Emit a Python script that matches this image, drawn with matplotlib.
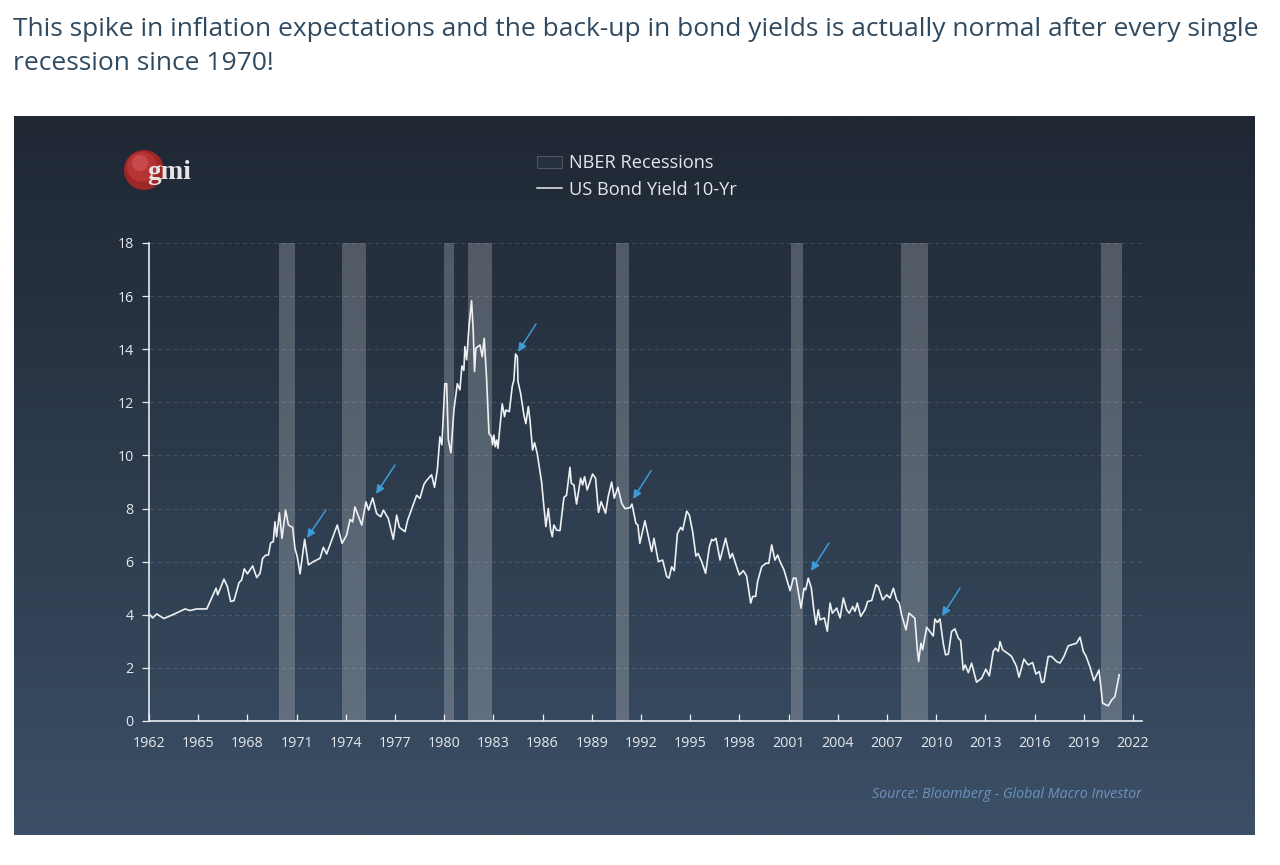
import numpy as np
import matplotlib
matplotlib.use("Agg")
import matplotlib.pyplot as plt
from matplotlib.patches import Patch, Circle
from matplotlib.lines import Line2D

TITLE = "This spike in inflation expectations and the back-up in bond yields is actually normal after every single\nrecession since 1970!"
SOURCE = "Source: Bloomberg - Global Macro Investor"
LOGO = "gmi"
LEGEND_LABELS = ["NBER Recessions", "US Bond Yield 10-Yr"]

x_tick_years = list(range(1962, 2023, 3))
y_ticks = list(range(0, 19, 2))

years = [1962.0,1962.22,1962.47,1962.91,1963.48,1964.2,1964.5,1964.91,1965.52,1966.09,1966.19,1966.57,1966.78,1966.98,1967.18,1967.49,1967.65,1967.81,1968.0,1968.32,1968.57,1968.77,1968.93,1969.13,1969.28,1969.42,1969.58,1969.68,1969.78,1969.95,1970.11,1970.33,1970.5,1970.76,1970.9,1971.04,1971.21,1971.49,1971.72,1972.02,1972.43,1972.63,1972.83,1973.48,1973.77,1974.05,1974.26,1974.42,1974.56,1974.97,1975.23,1975.39,1975.64,1975.88,1976.13,1976.29,1976.59,1976.9,1977.1,1977.27,1977.61,1977.77,1978.32,1978.52,1978.77,1978.93,1979.13,1979.23,1979.41,1979.58,1979.74,1979.86,1980.04,1980.15,1980.25,1980.41,1980.59,1980.8,1980.96,1981.08,1981.2,1981.26,1981.37,1981.51,1981.67,1981.77,1981.85,1981.93,1982.18,1982.32,1982.44,1982.58,1982.73,1982.89,1982.95,1983.03,1983.11,1983.2,1983.28,1983.36,1983.54,1983.68,1983.76,1983.97,1984.15,1984.25,1984.35,1984.46,1984.5,1984.66,1984.86,1984.98,1985.13,1985.23,1985.39,1985.51,1985.67,1985.94,1986.08,1986.2,1986.35,1986.49,1986.59,1986.69,1986.85,1987.06,1987.3,1987.46,1987.67,1987.75,1987.91,1988.07,1988.32,1988.44,1988.56,1988.72,1989.05,1989.23,1989.41,1989.57,1989.84,1990.0,1990.21,1990.37,1990.59,1990.82,1991.02,1991.33,1991.45,1991.69,1991.81,1991.93,1992.24,1992.65,1992.79,1993.06,1993.32,1993.57,1993.71,1993.87,1994.03,1994.22,1994.42,1994.54,1994.79,1994.95,1995.15,1995.35,1995.48,1995.7,1995.94,1996.17,1996.31,1996.41,1996.57,1996.82,1997.16,1997.43,1997.57,1997.79,1998.0,1998.24,1998.44,1998.69,1998.81,1998.99,1999.11,1999.36,1999.62,1999.79,1999.97,2000.17,2000.33,2000.48,2000.72,2001.09,2001.29,2001.45,2001.76,2001.94,2002.04,2002.2,2002.39,2002.55,2002.67,2002.81,2002.92,2003.18,2003.36,2003.53,2003.67,2003.93,2004.14,2004.34,2004.54,2004.7,2004.91,2005.05,2005.19,2005.4,2005.66,2005.82,2006.07,2006.33,2006.47,2006.74,2006.98,2007.18,2007.39,2007.59,2007.75,2007.89,2008.16,2008.34,2008.7,2008.85,2008.93,2009.07,2009.17,2009.42,2009.62,2009.82,2009.92,2010.07,2010.23,2010.43,2010.57,2010.74,2010.94,2011.14,2011.35,2011.49,2011.65,2011.77,2011.96,2012.16,2012.46,2012.77,2013.03,2013.24,2013.48,2013.62,2013.79,2013.89,2014.05,2014.4,2014.6,2014.9,2015.05,2015.35,2015.61,2015.88,2016.08,2016.29,2016.43,2016.57,2016.83,2017.04,2017.34,2017.55,2017.79,2018.05,2018.26,2018.56,2018.77,2018.97,2019.13,2019.37,2019.62,2019.93,2020.15,2020.49,2020.7,2020.9,2021.16]
yields = [4.04,3.88,4.03,3.86,4.01,4.22,4.16,4.22,4.22,5.0,4.75,5.34,5.06,4.5,4.53,5.21,5.31,5.73,5.54,5.84,5.4,5.56,6.13,6.25,6.25,6.71,6.75,7.5,6.94,7.84,6.88,7.94,7.38,7.29,6.5,6.19,5.54,6.84,5.88,6.0,6.13,6.54,6.29,7.38,6.69,7.0,7.59,7.5,8.06,7.38,8.25,7.94,8.4,7.81,7.69,7.94,7.63,6.84,7.75,7.29,7.13,7.56,8.5,8.38,8.92,9.06,9.2,9.27,8.8,9.45,10.7,10.4,12.7,12.7,10.6,10.1,11.7,12.7,12.47,13.37,13.2,14.1,13.6,14.85,15.83,14.7,13.16,14.04,14.16,13.72,14.41,12.97,10.83,10.7,10.4,10.77,10.33,10.58,10.27,10.83,11.94,11.46,11.71,11.65,12.6,12.84,13.82,13.72,12.78,12.34,11.52,11.2,11.84,11.33,10.2,10.48,10.08,9.0,8.07,7.32,8.0,7.2,6.94,7.38,7.19,7.17,8.42,8.5,9.55,8.95,8.89,8.17,9.14,8.89,9.2,8.7,9.3,9.14,7.85,8.26,7.82,8.45,9.0,8.39,8.8,8.2,8.0,8.03,8.17,7.44,7.38,6.69,7.54,6.38,6.88,6.0,6.06,5.44,5.38,5.81,5.66,7.06,7.29,7.19,7.9,7.75,7.13,6.21,6.31,6.0,5.56,6.56,6.84,6.79,6.88,6.06,6.88,6.13,6.31,5.88,5.5,5.66,5.46,4.44,4.69,4.69,5.25,5.81,5.94,5.94,6.63,6.06,6.25,6.0,5.69,4.91,5.38,5.38,4.25,5.0,4.94,5.38,5.0,4.13,3.63,4.19,3.81,3.88,3.38,4.44,4.06,4.25,3.88,4.63,4.19,4.06,4.31,4.13,4.44,3.94,4.19,4.5,4.54,5.13,5.06,4.56,4.75,4.63,5.0,4.56,4.44,4.0,3.43,4.06,3.87,2.68,2.24,2.93,2.68,3.53,3.37,3.2,3.84,3.71,3.84,2.93,2.49,2.52,3.37,3.47,3.12,3.03,1.92,2.11,1.82,2.18,1.46,1.61,1.95,1.7,2.62,2.74,2.62,2.99,2.68,2.53,2.43,2.05,1.65,2.33,2.11,2.2,1.77,1.86,1.45,1.48,2.43,2.43,2.24,2.18,2.43,2.83,2.87,2.93,3.16,2.62,2.45,2.05,1.52,1.92,0.67,0.57,0.79,0.92,1.74]

recession_starts = [1969.93,1973.77,1979.99,1981.45,1990.48,2001.15,2007.85,2020.05]
recession_ends = [1970.90,1975.23,1980.60,1982.92,1991.27,2001.88,2009.50,2021.33]

arrow_head_year = [1971.63,1975.84,1984.50,1991.51,2002.37,2010.35]
arrow_head_val = [6.89,8.55,13.90,8.36,5.65,3.95]
arrow_tail_year = [1972.79,1977.00,1985.60,1992.61,2003.46,2011.45]
arrow_tail_val = [7.95,9.64,14.95,9.42,6.70,5.00]

W, H = 1280, 865
FONT = "Open Sans"
plt.rcParams["font.family"] = [FONT, "DejaVu Sans"]
fig = plt.figure(figsize=(W / 100, H / 100), dpi=100, facecolor="white")

def rect(l, t, r, b):
    return [l / W, 1 - b / H, (r - l) / W, (b - t) / H]

# panel with vertical gradient
bg = fig.add_axes(rect(14, 116, 1255, 835))
top_c = np.array([0x1f, 0x27, 0x33]) / 255
bot_c = np.array([0x3b, 0x4f, 0x66]) / 255
t = np.linspace(0, 1, 256)[:, None, None]
bg.imshow(top_c[None, None, :] * (1 - t) + bot_c[None, None, :] * t, aspect="auto", extent=(0, 1, 0, 1))
bg.axis("off")

fig.text(13 / W, 1 - 17 / H, TITLE, color="#2f4a60", fontsize=19.0, va="top", ha="left", linespacing=1.5)

ax = fig.add_axes(rect(149, 243, 1142, 721))
ax.patch.set_alpha(0)
ax.set_xlim(1962, 2022.55)
ax.set_ylim(0, 18)
ax.set_xticks(x_tick_years)
ax.set_yticks(y_ticks)
ax.yaxis.grid(True, color="white", alpha=0.12, lw=0.8, ls=(0, (4, 3)))
ax.set_axisbelow(True)
for s in ("top", "right"):
    ax.spines[s].set_visible(False)
for s in ("left", "bottom"):
    ax.spines[s].set_color("#e8ecf0")
    ax.spines[s].set_linewidth(1.2)
ax.tick_params(axis="x", direction="in", length=5, width=0.9, color="#e8ecf0", labelcolor="#e4e8ec", labelsize=10.3, pad=11)
ax.tick_params(axis="y", direction="out", length=5, width=0.9, color="#e8ecf0", labelcolor="#e4e8ec", labelsize=10.3, pad=6)

for a, b in zip(recession_starts, recession_ends):
    ax.axvspan(a, b, color="white", alpha=0.21, lw=0, zorder=1)
ax.plot(years, yields, color="#eef0f2", lw=1.2, zorder=3, solid_joinstyle="round")

for hx, hy, tx, ty in zip(arrow_head_year, arrow_head_val, arrow_tail_year, arrow_tail_val):
    ax.annotate("", xy=(hx, hy), xytext=(tx, ty), zorder=4,
                arrowprops=dict(arrowstyle="-|>,head_length=0.5,head_width=0.24", color="#3f9bd6", lw=1.1,
                                shrinkA=0, shrinkB=0))

# legend
handles = [Patch(facecolor="#ffffff08", edgecolor="#4d5763", lw=0.8), Line2D([], [], color="#e8ecf0", lw=1.1)]
fig.legend(handles, LEGEND_LABELS, loc="upper left", bbox_to_anchor=(531.5 / W, 1 - 149 / H), frameon=False,
           fontsize=13.15, labelcolor="#e4e8ec", handlelength=1.38, handletextpad=0.36, labelspacing=0.45,
           borderpad=0.3, borderaxespad=0)

# logo
la = fig.add_axes(rect(14, 116, 1255, 835))
la.set_xlim(14, 1255)
la.set_ylim(835, 116)
la.axis("off")
la.patch.set_alpha(0)
la.add_patch(Circle((144, 170), 20, color="#9e2626", lw=0))
la.add_patch(Circle((142, 167), 15, color="#b83434", lw=0))
la.add_patch(Circle((140, 163), 8, color="#c94a4a", lw=0))
la.text(169.5, 172, LOGO, family="Liberation Serif", weight="bold", color="#e8e4e4", fontsize=19.5, ha="center", va="center")

fig.text(1142 / W, 1 - 794.5 / H, SOURCE, color="#6b93bd", fontsize=10.3, style="italic", ha="right", va="center")

fig.savefig("out.png", dpi=100, facecolor="white")
